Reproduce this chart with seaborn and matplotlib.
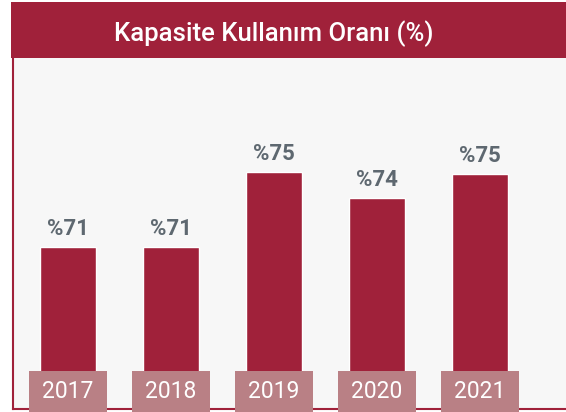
import matplotlib
matplotlib.use('Agg')
import matplotlib.pyplot as plt
from matplotlib.patches import Rectangle
import seaborn as sns

# data
years = ['2017', '2018', '2019', '2020', '2021']
usage = [71.0, 71.0, 75.0, 73.6, 74.9]
value_labels = ['%71', '%71', '%75', '%74', '%75']

bar_color = '#A0213A'
box_color = '#B98085'
label_color = '#5E6870'

sns.set_theme(style='white')
plt.rcParams['font.family'] = ['Roboto', 'DejaVu Sans']

fig = plt.figure(figsize=(5.66, 4.12), dpi=100)
fig.patch.set_facecolor('white')

# title band
fig.patches.append(Rectangle((11 / 566, 354 / 412), 555 / 566, 56 / 412,
                             transform=fig.transFigure, facecolor=bar_color,
                             edgecolor='none', zorder=0))
fig.text(0.484, 0.918, 'Kapasite Kullanım Oranı (%)', color='white',
         fontsize=18.5, fontweight='medium', ha='center', va='center')

ax = fig.add_axes([13 / 566, 3 / 412, 553 / 566, 351 / 412])
ax.set_facecolor('#F7F7F7')

sns.barplot(x=years, y=usage, color=bar_color, saturation=1, width=0.544, ax=ax)
ax.set_xlim(-0.534, 4.835)
ax.set_ylim(62.36, 81.08)

ax.bar_label(ax.containers[0], labels=value_labels, padding=5, fontsize=16,
             fontweight='bold', color=label_color)

# year tags at the bottom
xt = ax.get_xaxis_transform()
for i, yr in enumerate(years):
    ax.add_patch(Rectangle((i - 0.379, -0.01), 0.757, 0.118, transform=xt,
                           facecolor=box_color, edgecolor='none',
                           clip_on=False, zorder=3))
    ax.text(i, 0.051, yr, transform=xt, ha='center', va='center',
            color='white', fontsize=16.5, zorder=4)

ax.set_xticks([])
ax.set_yticks([])
ax.set_xlabel('')
ax.set_ylabel('')
for s in ['top', 'right']:
    ax.spines[s].set_visible(False)
for s in ['left', 'bottom']:
    ax.spines[s].set_color(bar_color)
    ax.spines[s].set_linewidth(1.5)

fig.savefig('out.png', dpi=100)
